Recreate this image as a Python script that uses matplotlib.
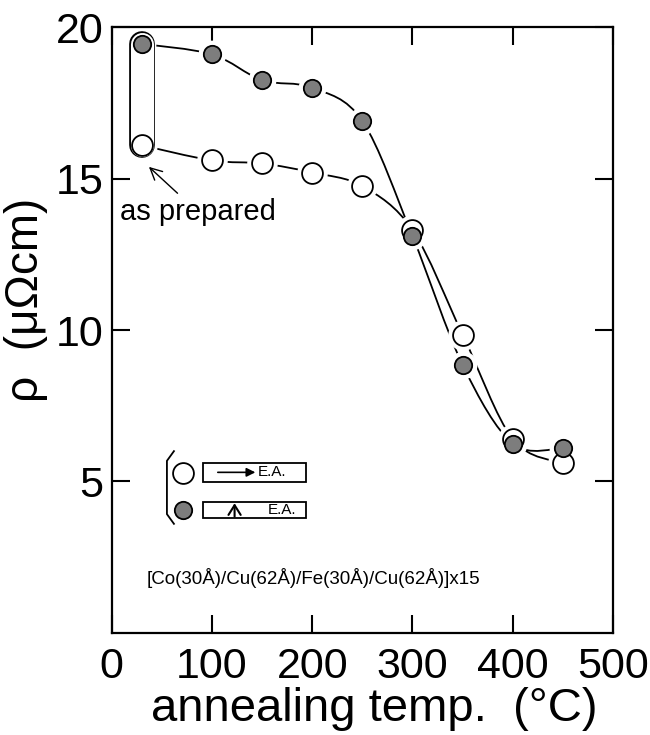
import numpy as np
import matplotlib
matplotlib.use("Agg")
import matplotlib.pyplot as plt
from matplotlib.path import Path
from matplotlib.patches import PathPatch, Rectangle

plt.rcParams['font.family'] = ['Liberation Sans', 'DejaVu Sans']

# ---------------- data ----------------
temp = [30, 100, 150, 200, 250, 300, 350, 400, 450]
rho_open = [16.1, 15.6, 15.5, 15.2, 14.75, 13.3, 9.85, 6.4, 5.6]      # E.A. parallel
rho_filled = [19.45, 19.1, 18.25, 18.0, 16.9, 13.1, 8.85, 6.25, 6.1]  # E.A. perpendicular

xticks = [0, 100, 200, 300, 400, 500]
yticks = [5, 10, 15, 20]
formula = "[Co(30Å)/Cu(62Å)/Fe(30Å)/Cu(62Å)]x15"


def smooth_path(x, y):
    # Catmull-Rom curve through the points, drawn as cubic Bezier pieces
    p = np.column_stack([x, y]).astype(float)
    verts = [p[0]]
    codes = [Path.MOVETO]
    for i in range(len(p) - 1):
        p0 = p[i - 1] if i > 0 else p[i]
        p1, p2 = p[i], p[i + 1]
        p3 = p[i + 2] if i + 2 < len(p) else p[i + 1]
        verts += [p1 + (p2 - p0) / 6, p2 - (p3 - p1) / 6, p2]
        codes += [Path.CURVE4] * 3
    return Path(verts, codes)


fig = plt.figure(figsize=(6.5, 7.35), dpi=100)
ax = fig.add_axes([0.172, 0.139, 0.771, 0.824])

# curves
for ys in (rho_open, rho_filled):
    ax.add_patch(PathPatch(smooth_path(temp, ys), fill=False, lw=1.3,
                           color="black", zorder=2))

# white halos to break the lines near the markers
ax.plot(temp, rho_open, "o", ms=21, color="white", mec="white", zorder=4)
ax.plot(temp, rho_filled, "o", ms=19, color="white", mec="white", zorder=4)

# "as prepared" rounded box around the first points
ax.plot([temp[0], temp[0]], [rho_filled[0], rho_open[0]], color="black",
        lw=18.5, solid_capstyle="round", zorder=4.5)
ax.plot([temp[0], temp[0]], [rho_filled[0], rho_open[0]], color="white",
        lw=16.6, solid_capstyle="round", zorder=4.6)

ax.plot(temp, rho_open, "o", ms=15, mfc="white", mec="black", mew=1.3, zorder=5)
ax.plot(temp, rho_filled, "o", ms=12.5, mfc="#7d7d7d", mec="black", mew=1.3, zorder=6)

ax.annotate("as prepared", xy=(35, 15.45), xytext=(8, 13.9),
            fontsize=21, va="center", ha="left",
            arrowprops=dict(arrowstyle="->", lw=1.0, color="black"))

# legend block
bx = [0.124, 0.110, 0.110, 0.124]
by = [0.300, 0.284, 0.196, 0.180]
ax.plot(bx, by, color="black", lw=1.3, transform=ax.transAxes)
ax.plot([0.142], [0.264], "o", ms=15, mfc="white", mec="black", mew=1.3,
        transform=ax.transAxes)
ax.plot([0.142], [0.203], "o", ms=12.5, mfc="#7d7d7d", mec="black", mew=1.3,
        transform=ax.transAxes)
ax.add_patch(Rectangle((0.182, 0.249), 0.205, 0.032, fill=False, lw=1.3,
                       transform=ax.transAxes))
ax.add_patch(Rectangle((0.182, 0.190), 0.205, 0.026, fill=False, lw=1.3,
                       transform=ax.transAxes))
ax.annotate("", xy=(0.292, 0.265), xytext=(0.206, 0.265), xycoords="axes fraction",
            arrowprops=dict(arrowstyle="-|>", lw=1.2, color="black", mutation_scale=13))
ax.annotate("", xy=(0.245, 0.214), xytext=(0.245, 0.192), xycoords="axes fraction",
            arrowprops=dict(arrowstyle="->,head_length=0.35,head_width=0.22",
                            lw=1.5, color="black", mutation_scale=20,
                            shrinkA=0, shrinkB=0))
ax.text(0.292, 0.265, "E.A.", fontsize=11, va="center", ha="left",
        transform=ax.transAxes)
ax.text(0.311, 0.203, "E.A.", fontsize=11, va="center", ha="left",
        transform=ax.transAxes)

ax.text(0.403, 0.091, formula, fontsize=13.5, ha="center", va="center",
        transform=ax.transAxes)

# axes
ax.set_xlim(0, 500)
ax.set_ylim(0, 20)
ax.set_xticks(xticks)
ax.set_yticks(yticks)
ax.tick_params(direction="in", length=13, width=1.5, top=True, right=True,
               labelsize=31, pad=6)
ax.tick_params(axis="x", pad=10)
for s in ax.spines.values():
    s.set_linewidth(1.6)

ax.set_xlabel("annealing temp.  (°C)", fontsize=34, labelpad=0, x=0.523)
ax.set_ylabel("ρ  (μΩcm)", fontsize=33)
ax.yaxis.set_label_coords(-0.128, 0.55)

fig.savefig("out.png", dpi=100)
